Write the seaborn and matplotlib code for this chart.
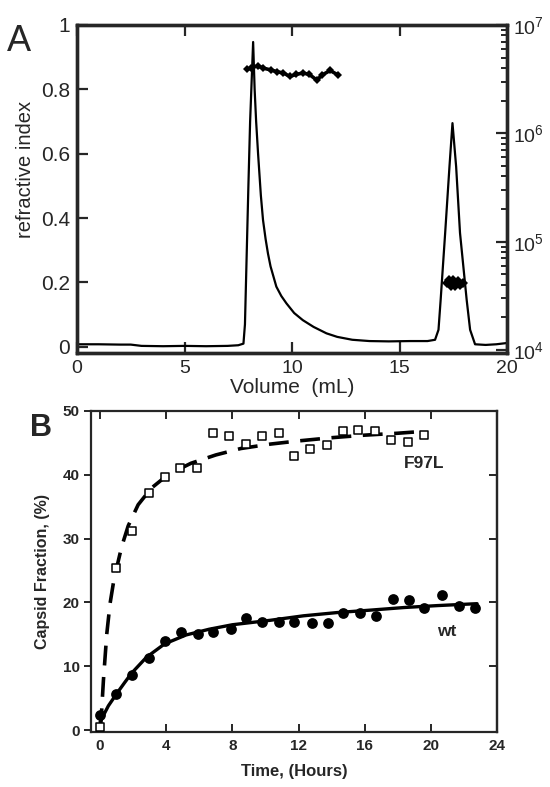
import numpy as np
import pandas as pd
import matplotlib
matplotlib.use("Agg")
import matplotlib.pyplot as plt
import seaborn as sns
from matplotlib.ticker import LogLocator, NullFormatter, FixedLocator

# ---------------- Panel A data ----------------
ri_volume = [0, 1, 2, 2.5, 3, 4, 5, 6, 7, 7.5, 7.74, 7.81, 7.97, 8.05, 8.19, 8.26,
             8.33, 8.42, 8.55, 8.65, 8.77, 8.88, 9.0, 9.27, 9.5, 9.74, 10.1, 10.5,
             11.0, 11.6, 12.1, 12.8, 13.6, 14.5, 15.5,
             16.3, 16.65, 16.81, 16.91, 17.12, 17.32, 17.46, 17.63, 17.81, 18.12,
             18.28, 18.51, 19.0, 19.5, 20.0]
ri_signal = [0.008, 0.008, 0.007, 0.007, 0.003, 0.002, 0.003, 0.002, 0.003, 0.005,
             0.01, 0.07, 0.50, 0.70, 0.947, 0.80, 0.70, 0.60, 0.47, 0.394, 0.335,
             0.29, 0.25, 0.187, 0.158, 0.135, 0.105, 0.083, 0.062, 0.042, 0.031,
             0.022, 0.018, 0.017, 0.018,
             0.018, 0.022, 0.053, 0.146, 0.354, 0.56, 0.695, 0.56, 0.354, 0.146,
             0.053, 0.008, 0.006, 0.008, 0.012]

mm1_volume = [7.9, 8.1, 8.4, 8.65, 9.0, 9.3, 9.6, 9.9, 10.2, 10.5, 10.8, 11.15, 11.4, 11.77, 12.14]
mm1_mass = [3.9e6, 4.0e6, 4.2e6, 4.0e6, 3.85e6, 3.7e6, 3.6e6, 3.35e6, 3.5e6, 3.6e6,
            3.5e6, 3.1e6, 3.45e6, 3.8e6, 3.45e6]
mm2_volume = [17.2, 17.3, 17.4, 17.5, 17.6, 17.7, 17.8, 17.95]
mm2_mass = [4.2e4, 4.4e4, 3.9e4, 4.4e4, 3.9e4, 4.3e4, 4.0e4, 4.2e4]

ri_yticks = [0, 0.2, 0.4, 0.6, 0.8, 1]
ri_yticklabels = ["0", "0.2", "0.4", "0.6", "0.8", "1"]
vol_ticks = [0, 5, 10, 15, 20]
mm_ticks = [1e4, 1e5, 1e6, 1e7]
mm_ticklabels = [r"$10^4$", r"$10^5$", r"$10^6$", r"$10^7$"]

# ---------------- Panel B data ----------------
f97l_time = [0, 0.97, 1.93, 2.97, 3.9, 4.85, 5.85, 6.8, 7.8, 8.8, 9.8, 10.8, 11.7,
             12.7, 13.7, 14.7, 15.6, 16.6, 17.6, 18.6, 19.6]
f97l_frac = [0.5, 25.4, 31.2, 37.2, 39.7, 41.0, 41.0, 46.6, 46.1, 44.8, 46.1, 46.5,
             43.0, 44.1, 44.6, 46.8, 47.0, 46.8, 45.4, 45.2, 46.2]
f97l_fit_time = [0.02, 0.06, 0.2, 0.4, 0.6, 0.8, 1.0, 1.3, 1.7, 2.3, 3.1, 4.1, 5.5,
                 7.0, 8.5, 10.3, 12.0, 14.0, 16.0, 18.0, 19.6]
f97l_fit_frac = [0.3, 1.6, 7.8, 15.0, 19.8, 23.0, 25.4, 28.7, 32.0, 35.3, 37.9, 40.0,
                 41.8, 43.1, 44.1, 44.8, 45.3, 45.8, 46.2, 46.5, 46.8]

wt_time = [0, 0.97, 1.95, 2.97, 3.9, 4.9, 5.9, 6.85, 7.9, 8.8, 9.8, 10.8, 11.75,
           12.8, 13.8, 14.7, 15.7, 16.7, 17.7, 18.7, 19.6, 20.7, 21.7, 22.7]
wt_frac = [2.4, 5.7, 8.7, 11.3, 14.0, 15.4, 15.1, 15.4, 15.9, 17.5, 16.9, 17.0,
           17.0, 16.7, 16.8, 18.4, 18.3, 17.8, 20.6, 20.4, 19.1, 21.1, 19.5, 19.1]
wt_fit_time = [0, 0.5, 1.0, 1.5, 1.9, 2.8, 3.9, 5.2, 6.6, 8.0, 10.3, 12.3, 14.3,
               16.4, 18.4, 20.4, 22.8]
wt_fit_frac = [1.3, 3.8, 5.7, 7.5, 8.9, 11.4, 13.5, 14.9, 15.8, 16.5, 17.2, 17.9,
               18.4, 18.8, 19.2, 19.5, 19.8]

time_ticks = [0, 4, 8, 12, 16, 20, 24]
frac_ticks = [0, 10, 20, 30, 40, 50]

# ---------------- Styling ----------------
sns.set_style("ticks")
plt.rcParams['font.family'] = ['Liberation Sans', 'DejaVu Sans']
plt.rcParams['mathtext.fontset'] = 'custom'
plt.rcParams['mathtext.rm'] = 'Liberation Sans'
plt.rcParams['mathtext.it'] = 'Liberation Sans:italic'
plt.rcParams['mathtext.bf'] = 'Liberation Sans:bold'

fig = plt.figure(figsize=(5.5, 7.87), dpi=100)

# ================= Panel A =================
axA = fig.add_axes([0.14, 0.5515, 0.782, 0.4168])
dfA = pd.DataFrame({"vol": ri_volume, "ri": ri_signal})
sns.lineplot(data=dfA, x="vol", y="ri", ax=axA, color="black", lw=1.6, sort=False)
axA.set_xlim(0, 20)
axA.set_ylim(-0.019, 1.0)
axA.set_xticks(vol_ticks)
axA.set_yticks(ri_yticks)
axA.set_yticklabels(ri_yticklabels)
axA.tick_params(axis='both', direction='in', length=8, width=1.6, labelsize=14,
                top=True, right=False, pad=5)
for lab in axA.get_yticklabels():
    lab.set_fontsize(15)
for s in axA.spines.values():
    s.set_linewidth(2.4)
axA.set_xlabel("Volume  (mL)", fontsize=15, labelpad=1)
axA.set_ylabel("refractive index", fontsize=14.5)
axA.yaxis.set_label_coords(-0.098, 0.56)

axR = axA.twinx()
dfM1 = pd.DataFrame({"vol": mm1_volume, "mm": mm1_mass})
dfM2 = pd.DataFrame({"vol": mm2_volume, "mm": mm2_mass})
sns.lineplot(data=dfM1, x="vol", y="mm", ax=axR, color="black", lw=2.6,
             marker="D", markersize=4, markeredgewidth=0, sort=False)
sns.lineplot(data=dfM2, x="vol", y="mm", ax=axR, color="black", lw=3.0,
             marker="D", markersize=5.5, markeredgewidth=0, sort=False)
axR.set_yscale("log")
axR.set_ylim(9.4e3, 1e7)
axR.set_xlim(0, 20)
axR.yaxis.set_major_locator(FixedLocator(mm_ticks))
axR.set_yticklabels(mm_ticklabels)
axR.yaxis.set_minor_locator(LogLocator(base=10, subs=np.arange(2, 10)))
axR.yaxis.set_minor_formatter(NullFormatter())
axR.tick_params(axis='y', which='major', direction='in', length=8, width=1.6,
                labelsize=14, pad=4)
axR.tick_params(axis='y', which='minor', direction='in', length=4, width=1.4)
axR.set_ylabel("")
for s in axR.spines.values():
    s.set_linewidth(2.4)

fig.text(0.012, 0.947, "A", fontsize=26, ha="left", va="center")

# ================= Panel B =================
axB = fig.add_axes([0.1655, 0.0699, 0.738, 0.408])
dfF = pd.DataFrame({"t": f97l_time, "f": f97l_frac})
dfFfit = pd.DataFrame({"t": f97l_fit_time, "f": f97l_fit_frac})
dfW = pd.DataFrame({"t": wt_time, "f": wt_frac})
dfWfit = pd.DataFrame({"t": wt_fit_time, "f": wt_fit_frac})

sns.lineplot(data=dfFfit, x="t", y="f", ax=axB, color="black", lw=2.6,
             dashes=False, sort=False).lines[-1].set_dashes((5.5, 3.2))
sns.lineplot(data=dfWfit, x="t", y="f", ax=axB, color="black", lw=2.4, sort=False)
sns.scatterplot(data=dfF, x="t", y="f", ax=axB, marker="s", s=36,
                facecolor="white", edgecolor="black", linewidth=1.1, zorder=5)
sns.scatterplot(data=dfW, x="t", y="f", ax=axB, marker="o", s=60,
                color="black", edgecolor="black", linewidth=0, zorder=5)

axB.set_xlim(-0.55, 24)
axB.set_ylim(-0.3, 50)
axB.set_xticks(time_ticks)
axB.set_yticks(frac_ticks)
axB.tick_params(axis='x', direction='in', length=6, width=1.4, top=True,
                labelsize=11, pad=5)
axB.tick_params(axis='y', direction='out', length=5, width=1.4, right=False,
                labelsize=11, pad=3)
for lab in axB.get_xticklabels() + axB.get_yticklabels():
    lab.set_fontweight("bold")
for s in axB.spines.values():
    s.set_linewidth(1.6)
sec = axB.secondary_yaxis('right')
sec.set_yticks([10, 20, 30, 40])
sec.tick_params(axis='y', direction='in', length=6, width=1.4, labelright=False)
sec.spines['right'].set_linewidth(1.6)

axB.set_xlabel("Time, (Hours)", fontsize=12, fontweight="bold", labelpad=8)
axB.set_ylabel("Capsid Fraction, (%)", fontsize=11.5, fontweight="bold", labelpad=9)

axB.text(18.4, 41.8, "F97L", fontsize=12.5, fontweight="bold", ha="left", va="center")
axB.text(20.4, 15.4, "wt", fontsize=12.5, fontweight="bold", ha="left", va="center")

fig.text(0.055, 0.456, "B", fontsize=22, fontweight="bold", ha="left", va="center")

fig.savefig("out.png", dpi=100)
